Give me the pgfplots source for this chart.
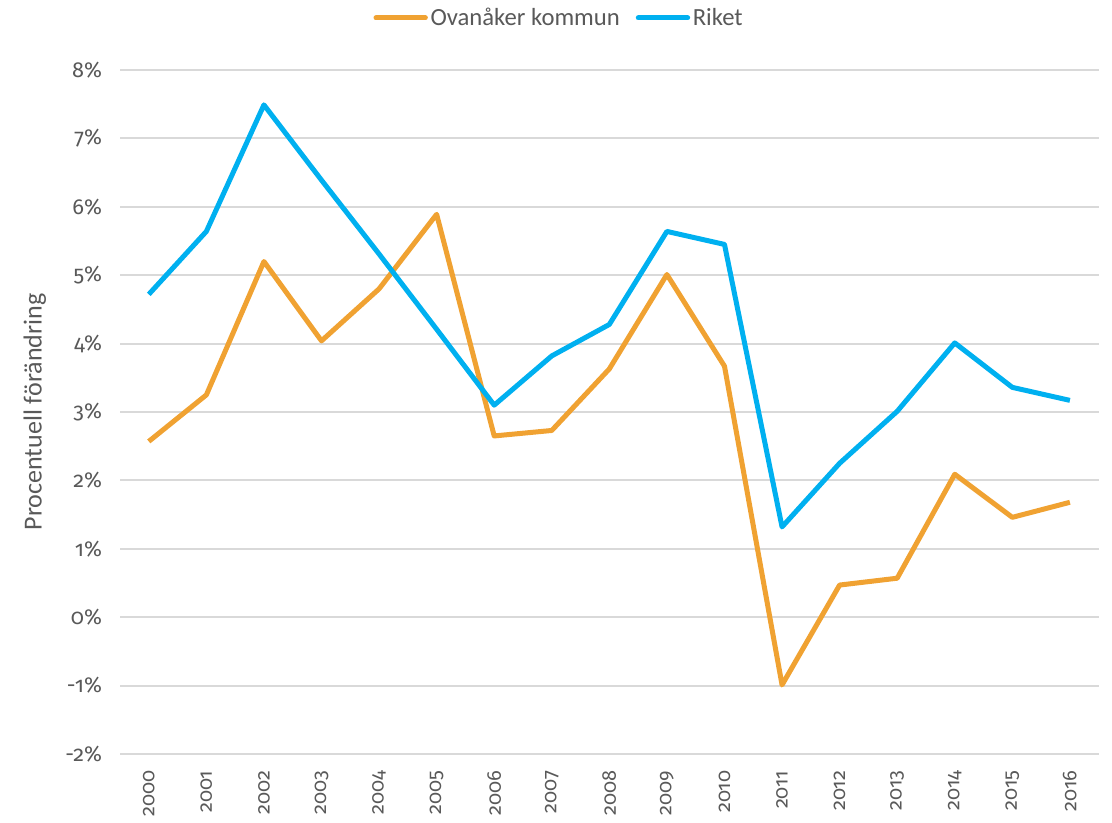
\documentclass[border=0pt]{standalone}
\usepackage{fontspec}
\setmainfont{Carlito}
\newfontfamily\numfont{Fira Sans}[Numbers=OldStyle, Scale=0.88]
\usepackage{pgfplots}
\pgfplotsset{compat=1.18}
\definecolor{orangeL}{HTML}{F0A232}
\definecolor{blueL}{HTML}{00B0F0}
\definecolor{gridg}{HTML}{D9D9D9}
\definecolor{txt}{HTML}{595959}
\begin{document}
\begin{tikzpicture}
\useasboundingbox (0,0) rectangle (834pt,616.5pt);
\begin{axis}[
  at={(90pt,51pt)}, anchor=south west,
  scale only axis, width=734pt, height=513pt,
  xmin=1999.5, xmax=2016.5, ymin=-2, ymax=8,
  xtick={2000,...,2016},
  xticklabels={2000,2001,2002,2003,2004,2005,2006,2007,2008,2009,2010,2011,2012,2013,2014,2015,2016},
  ytick={-2,...,8},
  yticklabels={-2\%,-1\%,0\%,1\%,2\%,3\%,4\%,5\%,6\%,7\%,8\%},
  ymajorgrids, grid style={draw=gridg, line width=1.5pt},
  axis line style={draw=none},
  major tick length=0pt,
  tick label style={font=\numfont\fontsize{18.5pt}{20pt}\selectfont, text=txt},
  yticklabel style={anchor=east, xshift=-10pt},
  xticklabel style={anchor=east, rotate=90, font=\numfont\fontsize{17pt}{19pt}\selectfont},
  xticklabel shift=9pt,
  ylabel={Procentuell förändring},
  ylabel style={at={(axis description cs:-0.087,0.5)}, anchor=center, font=\fontsize{19.5pt}{21pt}\selectfont, text=txt},
  legend style={at={(0.449,1)}, anchor=center, yshift=39pt, draw=none, legend columns=2,
    font=\fontsize{18.5pt}{20pt}\selectfont, text=txt,
    /tikz/every even column/.append style={column sep=10pt}},
  legend image code/.code={\draw[#1, line cap=round] (0pt,0pt) -- (37pt,0pt);},
  every axis plot/.append style={line width=3.75pt, line join=round},
]
\addplot[orangeL] coordinates {
(2000,2.57) (2001,3.25) (2002,5.20) (2003,4.04) (2004,4.80) (2005,5.89) (2006,2.65) (2007,2.73) (2008,3.63) (2009,5.01) (2010,3.67) (2011,-0.99) (2012,0.47) (2013,0.57) (2014,2.09) (2015,1.46) (2016,1.68)};
\addlegendentry{Ovanåker kommun}
\addplot[blueL] coordinates {
(2000,4.72) (2001,5.64) (2002,7.49) (2003,6.39) (2004,5.31) (2005,4.21) (2006,3.10) (2007,3.82) (2008,4.28) (2009,5.64) (2010,5.45) (2011,1.32) (2012,2.25) (2013,3.01) (2014,4.01) (2015,3.36) (2016,3.17)};
\addlegendentry{Riket}
\end{axis}
\end{tikzpicture}
\end{document}
